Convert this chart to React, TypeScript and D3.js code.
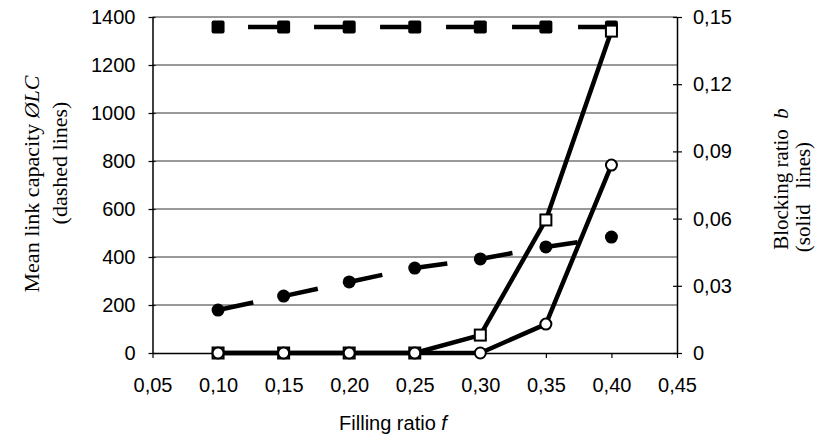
import * as d3 from 'd3';
import React, { useEffect, useRef } from 'react';

// filling ratio f
const fillingRatio = [0.1, 0.15, 0.2, 0.25, 0.3, 0.35, 0.4];
// mean link capacity (dashed lines, left axis)
const capacitySquares = [1358, 1358, 1358, 1358, 1358, 1358, 1358];
const capacityCircles = [179, 237, 296, 354, 392, 442, 483];
// blocking ratio (solid lines, right axis)
const blockingSquares = [0, 0, 0, 0, 0.008, 0.0594, 0.1437];
const blockingCircles = [0, 0, 0, 0, 0, 0.0129, 0.0839];

const xTicks = [0.05, 0.1, 0.15, 0.2, 0.25, 0.3, 0.35, 0.4, 0.45];
const leftTicks = [0, 200, 400, 600, 800, 1000, 1200, 1400];
const rightTicks = [0, 0.03, 0.06, 0.09, 0.12, 0.15];

const comma = (v: number, digits: number) => v.toFixed(digits).replace('.', ',');

const App = () => {
  const ref = useRef<SVGSVGElement>(null);

  useEffect(() => {
    const svg = d3.select(ref.current);
    svg.selectAll('*').remove();

    const x = d3.scaleLinear().domain([0.05, 0.45]).range([152.5, 677]);
    const yL = d3.scaleLinear().domain([0, 1400]).range([353, 17]);
    const yR = d3.scaleLinear().domain([0, 0.15]).range([353, 17]);
    const sans = "'Liberation Sans', Arial, sans-serif";
    const serif = "'Liberation Serif', 'Times New Roman', serif";

    // gridlines
    svg.append('g')
      .selectAll('line')
      .data(leftTicks.slice(1))
      .enter()
      .append('line')
      .attr('x1', x(0.05)).attr('x2', x(0.45))
      .attr('y1', d => yL(d)).attr('y2', d => yL(d))
      .attr('stroke', '#777').attr('stroke-width', 1.3);

    // left axis
    const gl = svg.append('g').attr('transform', 'translate(' + x(0.05) + ',0)');
    gl.call(d3.axisLeft(yL).tickValues(leftTicks).tickSize(4).tickSizeOuter(0).tickPadding(13).tickFormat(d => String(d)));
    // right axis
    const gr = svg.append('g').attr('transform', 'translate(' + x(0.45) + ',0)');
    gr.call(d3.axisRight(yR).tickValues(rightTicks).tickSize(5).tickSizeOuter(0).tickPadding(11).tickFormat(d => (d === 0 ? '0' : comma(+d, 2))));
    // bottom axis
    const gb = svg.append('g').attr('transform', 'translate(0,' + yL(0) + ')');
    gb.call(d3.axisBottom(x).tickValues(xTicks).tickSize(5).tickSizeOuter(0).tickPadding(20).tickFormat(d => comma(+d, 2)));

    [gl, gr, gb].forEach(g => {
      g.selectAll('path').attr('stroke', '#000').attr('stroke-width', 1.5);
      g.selectAll('line').attr('stroke', '#000').attr('stroke-width', 1.2);
      g.selectAll('text').attr('font-family', sans).attr('font-size', 20).attr('fill', '#000');
    });
    gl.selectAll('.tick line').attr('x2', 3).attr('x1', -4);
    gr.selectAll('.tick line').attr('x1', -4);
    gb.selectAll('.tick line').attr('y1', 0);

    const lineL = (vals: number[]) =>
      d3.line<number>().x((d, i) => x(fillingRatio[i])).y(d => yL(d))(vals);
    const lineR = (vals: number[]) =>
      d3.line<number>().x((d, i) => x(fillingRatio[i])).y(d => yR(d))(vals);

    // dashed lines
    svg.append('path').attr('d', lineL(capacitySquares)).attr('fill', 'none')
      .attr('stroke', '#000').attr('stroke-width', 4.5).attr('stroke-dasharray', '36,30').attr('stroke-dashoffset', 36);
    svg.append('path').attr('d', lineL(capacityCircles)).attr('fill', 'none')
      .attr('stroke', '#000').attr('stroke-width', 4.5).attr('stroke-dasharray', '36,30').attr('stroke-dashoffset', 0);

    svg.append('g').selectAll('rect').data(capacitySquares).enter().append('rect')
      .attr('x', (d, i) => x(fillingRatio[i]) - 6.5).attr('y', d => yL(d) - 6.5)
      .attr('width', 13).attr('height', 13).attr('rx', 2).attr('fill', '#000');
    svg.append('g').selectAll('circle').data(capacityCircles).enter().append('circle')
      .attr('cx', (d, i) => x(fillingRatio[i])).attr('cy', d => yL(d))
      .attr('r', 6.5).attr('fill', '#000');

    // solid lines
    svg.append('path').attr('d', lineR(blockingSquares)).attr('fill', 'none')
      .attr('stroke', '#000').attr('stroke-width', 4.5).attr('stroke-linejoin', 'round');
    svg.append('path').attr('d', lineR(blockingCircles)).attr('fill', 'none')
      .attr('stroke', '#000').attr('stroke-width', 4.5).attr('stroke-linejoin', 'round');

    svg.append('g').selectAll('rect').data(blockingSquares).enter().append('rect')
      .attr('x', (d, i) => x(fillingRatio[i]) - 5.5).attr('y', d => yR(d) - 5.5)
      .attr('width', 11).attr('height', 11).attr('fill', '#fff').attr('stroke', '#000').attr('stroke-width', 2);
    svg.append('g').selectAll('circle').data(blockingCircles).enter().append('circle')
      .attr('cx', (d, i) => x(fillingRatio[i])).attr('cy', d => yR(d))
      .attr('r', 5.5).attr('fill', '#fff').attr('stroke', '#000').attr('stroke-width', 2);

    // axis titles
    svg.append('text').attr('x', 393).attr('y', 430).attr('text-anchor', 'middle')
      .attr('font-family', sans).attr('font-size', 20)
      .html('Filling ratio <tspan font-style="italic">f</tspan>');

    const rot = (tx: number, ty: number, size: number, html: string) =>
      svg.append('text').attr('transform', 'translate(' + tx + ',' + ty + ') rotate(-90)')
        .attr('text-anchor', 'middle').attr('font-family', serif).attr('font-size', size).attr('fill', '#000')
        .html(html);
    rot(39, 184, 22, 'Mean link capacity <tspan font-style="italic">ØLC</tspan>');
    rot(67, 163, 22, '(dashed lines)');
    rot(788, 179, 21, 'Blocking ratio&#160;&#160;<tspan font-style="italic">b</tspan>');
    rot(810, 197, 21, '(solid&#160;&#160;&#160;lines)');
  }, []);

  return (
    <svg ref={ref} width={815} height={438} style={{ position: 'absolute', left: 0, top: 0, background: '#fff' }} />
  );
};

export default App;
